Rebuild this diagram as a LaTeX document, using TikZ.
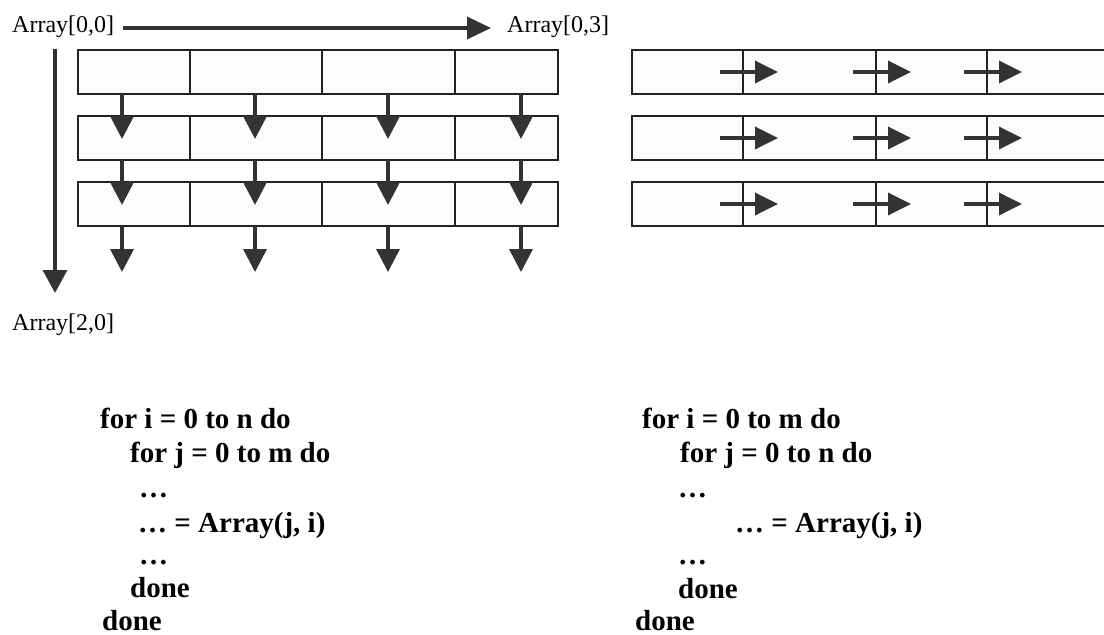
\documentclass[tikz,border=0pt]{standalone}
\usepackage{fontspec}
\setmainfont{Liberation Serif}
\usetikzlibrary{arrows.meta}
\definecolor{arr}{HTML}{333333}
\definecolor{cellfill}{HTML}{FCFCFC}
\definecolor{cellline}{HTML}{222222}
\begin{document}
\begin{tikzpicture}[x=1pt,y=-1pt,
  cell/.style={draw=cellline, fill=cellfill, line width=1.3pt, rectangle, inner sep=0pt, outer sep=0pt, anchor=north west, minimum height=44pt},
  flow/.style={draw=arr, line width=3.6pt, -{Triangle[length=23pt,width=23pt]}},
  lbl/.style={anchor=base west, inner sep=0pt, font=\fontsize{24}{28}\selectfont},
  code/.style={anchor=base west, inner sep=0pt, font=\bfseries\fontsize{29}{33}\selectfont}]
\clip (0,0) rectangle (1104,635);
\fill[white] (0,0) rectangle (1104,635);
% left grid
\foreach \r/\top in {1/50,2/116,3/182} {
  \foreach \c/\xa/\xb in {1/78/190,2/190/322,3/322/455,4/455/558} {
    \pgfmathsetmacro\w{\xb-\xa}
    \node[cell, minimum width=\w pt] (L\r\c) at (\xa,\top) {};
  }
}
% right grid
\foreach \r/\top in {1/50,2/116,3/182} {
  \foreach \c/\xa/\xb in {1/632/743,2/743/876,3/876/987,4/987/1110} {
    \pgfmathsetmacro\w{\xb-\xa}
    \node[cell, minimum width=\w pt] (R\r\c) at (\xa,\top) {};
  }
}
% down arrows (left)
\foreach \r/\yb/\yt in {1/94/139,2/160/205,3/226/272} {
  \foreach \c/\ax in {1/122,2/255,3/388,4/521} {
    \coordinate (da\r\c) at (\ax,\yb);
    \coordinate (db\r\c) at (\ax,\yt);
    \draw[flow] (da\r\c) -- (db\r\c);
  }
}
% right arrows (right)
\foreach \r/\ym in {1/72,2/138,3/204} {
  \foreach \c/\dx in {1/743,2/876,3/987} {
    \pgfmathsetmacro\xs{\dx-23}
    \pgfmathsetmacro\xt{\dx+35}
    \coordinate (ra\r\c) at (\xs,\ym);
    \coordinate (rb\r\c) at (\xt,\ym);
    \draw[flow, -{Triangle[length=23pt,width=22pt]}] (ra\r\c) -- (rb\r\c);
  }
}
% labels
\node[lbl] (a00) at (12,32) {Array[0,0]};
\node[lbl] (a03) at (507,32) {Array[0,3]};
\node[lbl] (a20) at (12,330) {Array[2,0]};
\coordinate (htail) at (123,28);
\coordinate (htip) at (491,28);
\coordinate (vtail) at (55,49);
\coordinate (vtip) at (55,293);
\draw[flow, -{Triangle[length=24pt,width=22pt]}] (htail) -- (htip);
\draw[flow, -{Triangle[length=23pt,width=24pt]}] (vtail) -- (vtip);
% left code
\node[code] (l1) at (100,428) {for i = 0 to n do};
\node[code] (l2) at (130,462) {for j = 0 to m do};
\node[code] (l3) at (139,497) {…};
\node[code] (l4) at (138,532) {… = Array(j, i)};
\node[code] (l5) at (139,564) {…};
\node[code] (l6) at (130,597) {done};
\node[code] (l7) at (102,630) {done};
% right code
\node[code] (r1) at (642,428) {for i = 0 to m do};
\node[code] (r2) at (680,462) {for j = 0 to n do};
\node[code] (r3) at (678,497) {…};
\node[code] (r4) at (735,532) {… = Array(j, i)};
\node[code] (r5) at (678,564) {…};
\node[code] (r6) at (678,598) {done};
\node[code] (r7) at (635,630) {done};
\end{tikzpicture}
\end{document}
